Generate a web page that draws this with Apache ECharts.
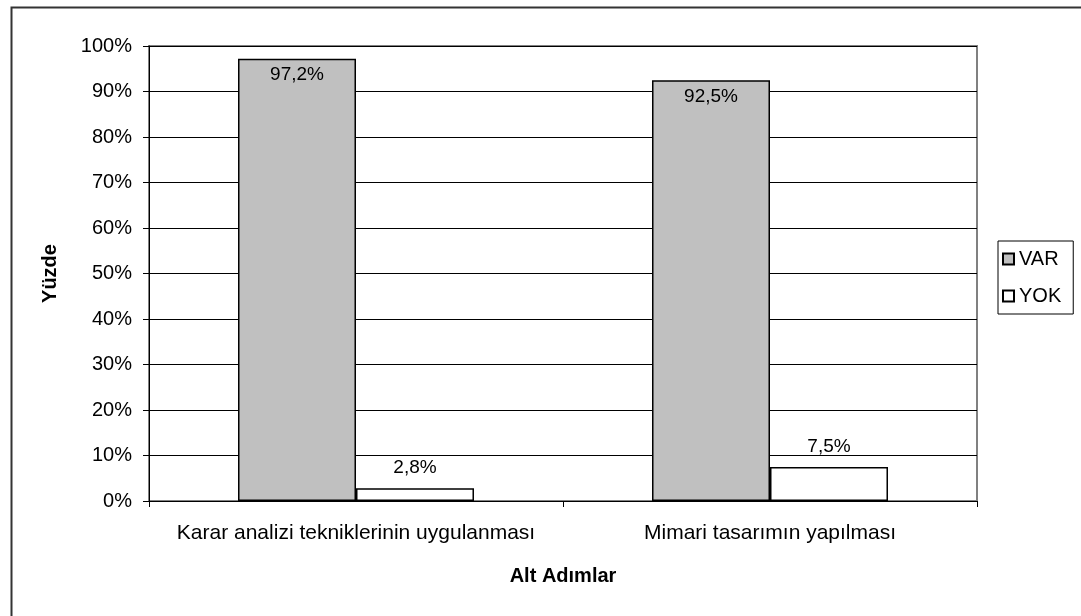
<!DOCTYPE html>
<html>
<head>
<meta charset="utf-8">
<script src="https://cdn.jsdelivr.net/npm/echarts@6/dist/echarts.min.js"></script>
<style>
html,body{margin:0;padding:0;background:#fff;}
#chart{width:1081px;height:616px;}
</style>
</head>
<body>
<div id="chart"></div>
<script>
const categories = ['Karar analizi tekniklerinin uygulanması', 'Mimari tasarımın yapılması'];
const varValues = [97.2, 92.5];
const yokValues = [2.8, 7.5];
const seriesNames = ['VAR', 'YOK'];
const yTicks = [0, 10, 20, 30, 40, 50, 60, 70, 80, 90, 100];

const FONT = '"Liberation Sans", Arial, sans-serif';
const fmt = v => String(v).replace('.', ',') + '%';

const chart = echarts.init(document.getElementById('chart'), null, {renderer: 'canvas'});
chart.setOption({
  animation: false,
  backgroundColor: '#fff',
  textStyle: {fontFamily: FONT, color: '#000'},
  grid: {
    left: 149, right: 104, top: 46, bottom: 115,
    show: true, borderColor: '#808080', borderWidth: 2, backgroundColor: 'transparent'
  },
  legend: {
    data: seriesNames,
    orient: 'vertical',
    left: 998, top: 241,
    itemWidth: 11, itemHeight: 11,
    itemGap: 17,
    padding: [8, 12, 8, 4],
    borderColor: '#000', borderWidth: 1,
    icon: 'rect',
    textStyle: {fontFamily: FONT, fontSize: 20, color: '#000'}
  },
  xAxis: {
    type: 'category',
    data: categories,
    name: 'Alt Adımlar',
    nameLocation: 'middle',
    nameGap: 65,
    nameTextStyle: {fontFamily: FONT, fontSize: 20, fontWeight: 'bold', color: '#000', verticalAlign: 'top'},
    axisLine: {lineStyle: {color: '#000', width: 1}},
    axisTick: {show: true, length: 6, lineStyle: {color: '#000'}},
    axisLabel: {fontFamily: FONT, fontSize: 21, color: '#000', margin: 22, interval: 0},
    splitLine: {show: false}
  },
  yAxis: {
    type: 'value',
    min: 0, max: 100, interval: 10,
    name: 'Yüzde',
    nameLocation: 'middle',
    nameGap: 89,
    nameTextStyle: {fontFamily: FONT, fontSize: 20, fontWeight: 'bold', color: '#000'},
    axisLine: {show: true, lineStyle: {color: '#000', width: 1}},
    axisTick: {show: true, length: 6, lineStyle: {color: '#000'}},
    axisLabel: {
      fontFamily: FONT, fontSize: 20, color: '#000', margin: 17,
      formatter: v => yTicks.includes(v) ? v + '%' : ''
    },
    splitLine: {show: true, lineStyle: {color: '#000', width: 1}}
  },
  series: [
    {
      name: seriesNames[0],
      type: 'bar',
      data: varValues,
      barGap: '0%',
      barCategoryGap: '43%',
      itemStyle: {color: '#c0c0c0', borderColor: '#000', borderWidth: 1.5},
      label: {
        show: true, position: 'insideTop', distance: 7,
        fontFamily: FONT, fontSize: 19, color: '#000',
        formatter: p => fmt(p.value)
      }
    },
    {
      name: seriesNames[1],
      type: 'bar',
      data: yokValues,
      barGap: '0%',
      barCategoryGap: '43%',
      itemStyle: {color: '#ffffff', borderColor: '#000', borderWidth: 1.5},
      label: {
        show: true, position: 'top', distance: 11,
        fontFamily: FONT, fontSize: 19, color: '#000',
        formatter: p => fmt(p.value)
      }
    }
  ],
  graphic: [
    {
      type: 'rect', left: 9, top: 5, silent: true, z: -10,
      shape: {x: 0, y: 0, width: 1200, height: 800},
      style: {fill: 'none', stroke: '#333', lineWidth: 2}
    }
  ]
});
</script>
</body>
</html>
